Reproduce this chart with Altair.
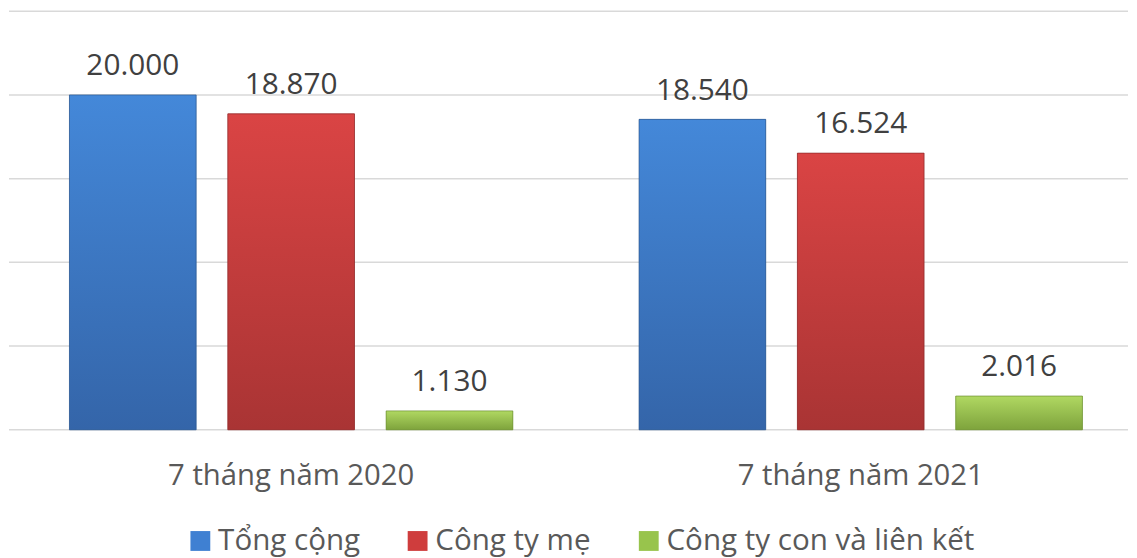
import altair as alt
import pandas as pd

periods = ["7 tháng năm 2020", "7 tháng năm 2021"]
series = ["Tổng cộng", "Công ty mẹ", "Công ty con và liên kết"]
values_2020 = [20000, 18870, 1130]
values_2021 = [18540, 16524, 2016]
colors = ["#3f80d2", "#cf3d3d", "#98c44c"]
grad_top = ["#4488d9", "#da4444", "#b0d862"]
grad_bot = ["#3465a9", "#a93434", "#7ea33c"]
edge = ["#2b558c", "#8a2a2a", "#6a8c30"]
y_ticks = [0, 5000, 10000, 15000, 20000, 25000]

rows = []
for p, vals in zip(periods, [values_2020, values_2021]):
    for s, v in zip(series, vals):
        rows.append({"period": p, "series": s, "value": v,
                     "label": f"{v:,}".replace(",", ".")})
df = pd.DataFrame(rows)
grid_df = pd.DataFrame({"tick": y_ticks})

W, H = 1128, 422
FONT = "Open Sans"

x = alt.X("period:N", sort=periods, title=None,
          scale=alt.Scale(range=[45, 1098], paddingInner=0.166, paddingOuter=0),
          axis=alt.Axis(labelFontSize=29.5, labelFont=FONT, labelColor="#595959",
                        labelBaseline="alphabetic", labelPadding=55, ticks=False,
                        tickSize=0, domain=False, labelAngle=0, labelLimit=600,
                        grid=False))
xo = alt.XOffset("series:N", sort=series,
                 scale=alt.Scale(domain=series, paddingInner=0.2, paddingOuter=0.1))
yscale = alt.Scale(domain=[0, 25000])
y = alt.Y("value:Q", title=None, scale=yscale, axis=None)

grid = alt.Chart(grid_df).mark_rule(color="#d9d9d9", strokeWidth=1.5).encode(
    y=alt.Y("tick:Q", scale=yscale, axis=None),
    x=alt.value(0), x2=alt.value(W),
)

base = alt.Chart(df).mark_bar().encode(
    x=x, xOffset=xo, y=y,
    color=alt.Color("series:N", sort=series,
                    scale=alt.Scale(domain=series, range=colors),
                    legend=alt.Legend(title=None, orient="none", legendX=178, legendY=519,
                                      direction="horizontal", symbolType="square",
                                      symbolSize=400, symbolStrokeWidth=0,
                                      labelFontSize=29.8, labelFont=FONT,
                                      labelColor="#595959", columnPadding=43,
                                      labelOffset=3, labelLimit=600)),
)

layers = [grid, base]
for i, s in enumerate(series):
    g = alt.Gradient(gradient="linear", x1=0, x2=0, y1=0, y2=1,
                     stops=[alt.GradientStop(color=grad_top[i], offset=0),
                            alt.GradientStop(color=grad_bot[i], offset=1)])
    layers.append(
        alt.Chart(df).transform_filter(alt.datum.series == s)
        .mark_bar(fill=g, stroke=edge[i], strokeWidth=1, strokeOpacity=0.7)
        .encode(x=x, xOffset=xo, y=y)
    )

text = alt.Chart(df).mark_text(dy=-20, baseline="alphabetic", fontSize=30,
                               font=FONT, color="#404040").encode(
    x=x, xOffset=xo, y=y, text="label:N")
layers.append(text)

chart = alt.layer(*layers).properties(
    width=W, height=H, padding={"left": 0, "top": 0, "right": 0, "bottom": 0}
).configure_view(stroke=None)

chart.save("out.html", embed_options={"renderer": "svg", "actions": False})
